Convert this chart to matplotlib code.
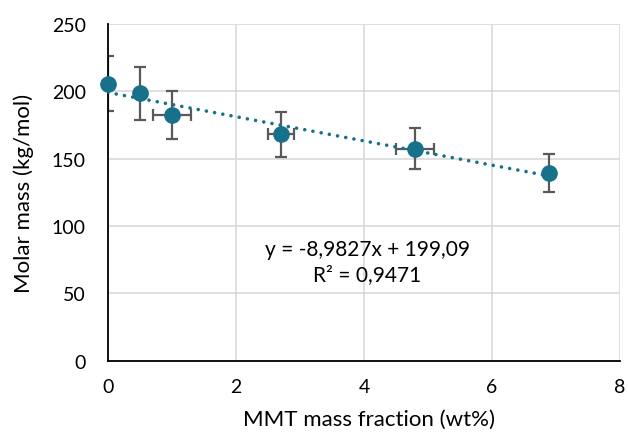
import numpy as np
import matplotlib.pyplot as plt

plt.rcParams['font.family'] = ['Lato', 'DejaVu Sans']

# data
mmt = [0.0, 0.5, 1.0, 2.7, 4.8, 6.9]
molar_mass = [205.5, 198.5, 182.5, 168, 157.5, 139.5]
y_err = [20.5, 19.5, 18, 16.5, 15.5, 14]
x_err = [0.0, 0.0, 0.3, 0.2, 0.3, 0.0]
slope = -8.9827
intercept = 199.09

teal = '#18718a'

fig = plt.figure(figsize=(6.28, 4.35), dpi=100)
ax = fig.add_axes([0.172, 0.168, 0.815, 0.775])

ax.errorbar(mmt, molar_mass, yerr=y_err, xerr=x_err, fmt='none',
            ecolor='#595959', elinewidth=1.6, capsize=4, capthick=1.6, zorder=2)

xfit = np.array([min(mmt), max(mmt)])
ax.plot(xfit, slope * xfit + intercept, linestyle=(0, (0.01, 2.3)), color=teal,
        linewidth=2.6, dash_capstyle='round', zorder=3)

ax.plot(mmt, molar_mass, 'o', color=teal, markersize=11, zorder=4, clip_on=False)

ax.text(4.05, 83, 'y = -8,9827x + 199,09', ha='center', va='center', fontsize=15)
ax.text(4.05, 64.5, 'R² = 0,9471', ha='center', va='center', fontsize=15)

ax.set_xlim(0, 8)
ax.set_ylim(0, 250)
ax.set_xticks([0, 2, 4, 6, 8])
ax.set_yticks([0, 50, 100, 150, 200, 250])
ax.grid(True, color='#d9d9d9', linewidth=1.2)
ax.set_axisbelow(True)
for s in ['top', 'right']:
    ax.spines[s].set_visible(False)
for s in ['left', 'bottom']:
    ax.spines[s].set_color('black')
    ax.spines[s].set_linewidth(1.3)
ax.tick_params(length=0, labelsize=14)
ax.tick_params(axis='y', pad=16)
ax.tick_params(axis='x', pad=12)
ax.set_xlabel('MMT mass fraction (wt%)', fontsize=16)
ax.set_ylabel('Molar mass (kg/mol)', fontsize=16)
ax.xaxis.label.set_va('center')
ax.yaxis.label.set_va('center')
ax.xaxis.set_label_coords(0.51, -0.172)
ax.yaxis.set_label_coords(-0.164, 0.5)

plt.savefig('out.png', dpi=100)
